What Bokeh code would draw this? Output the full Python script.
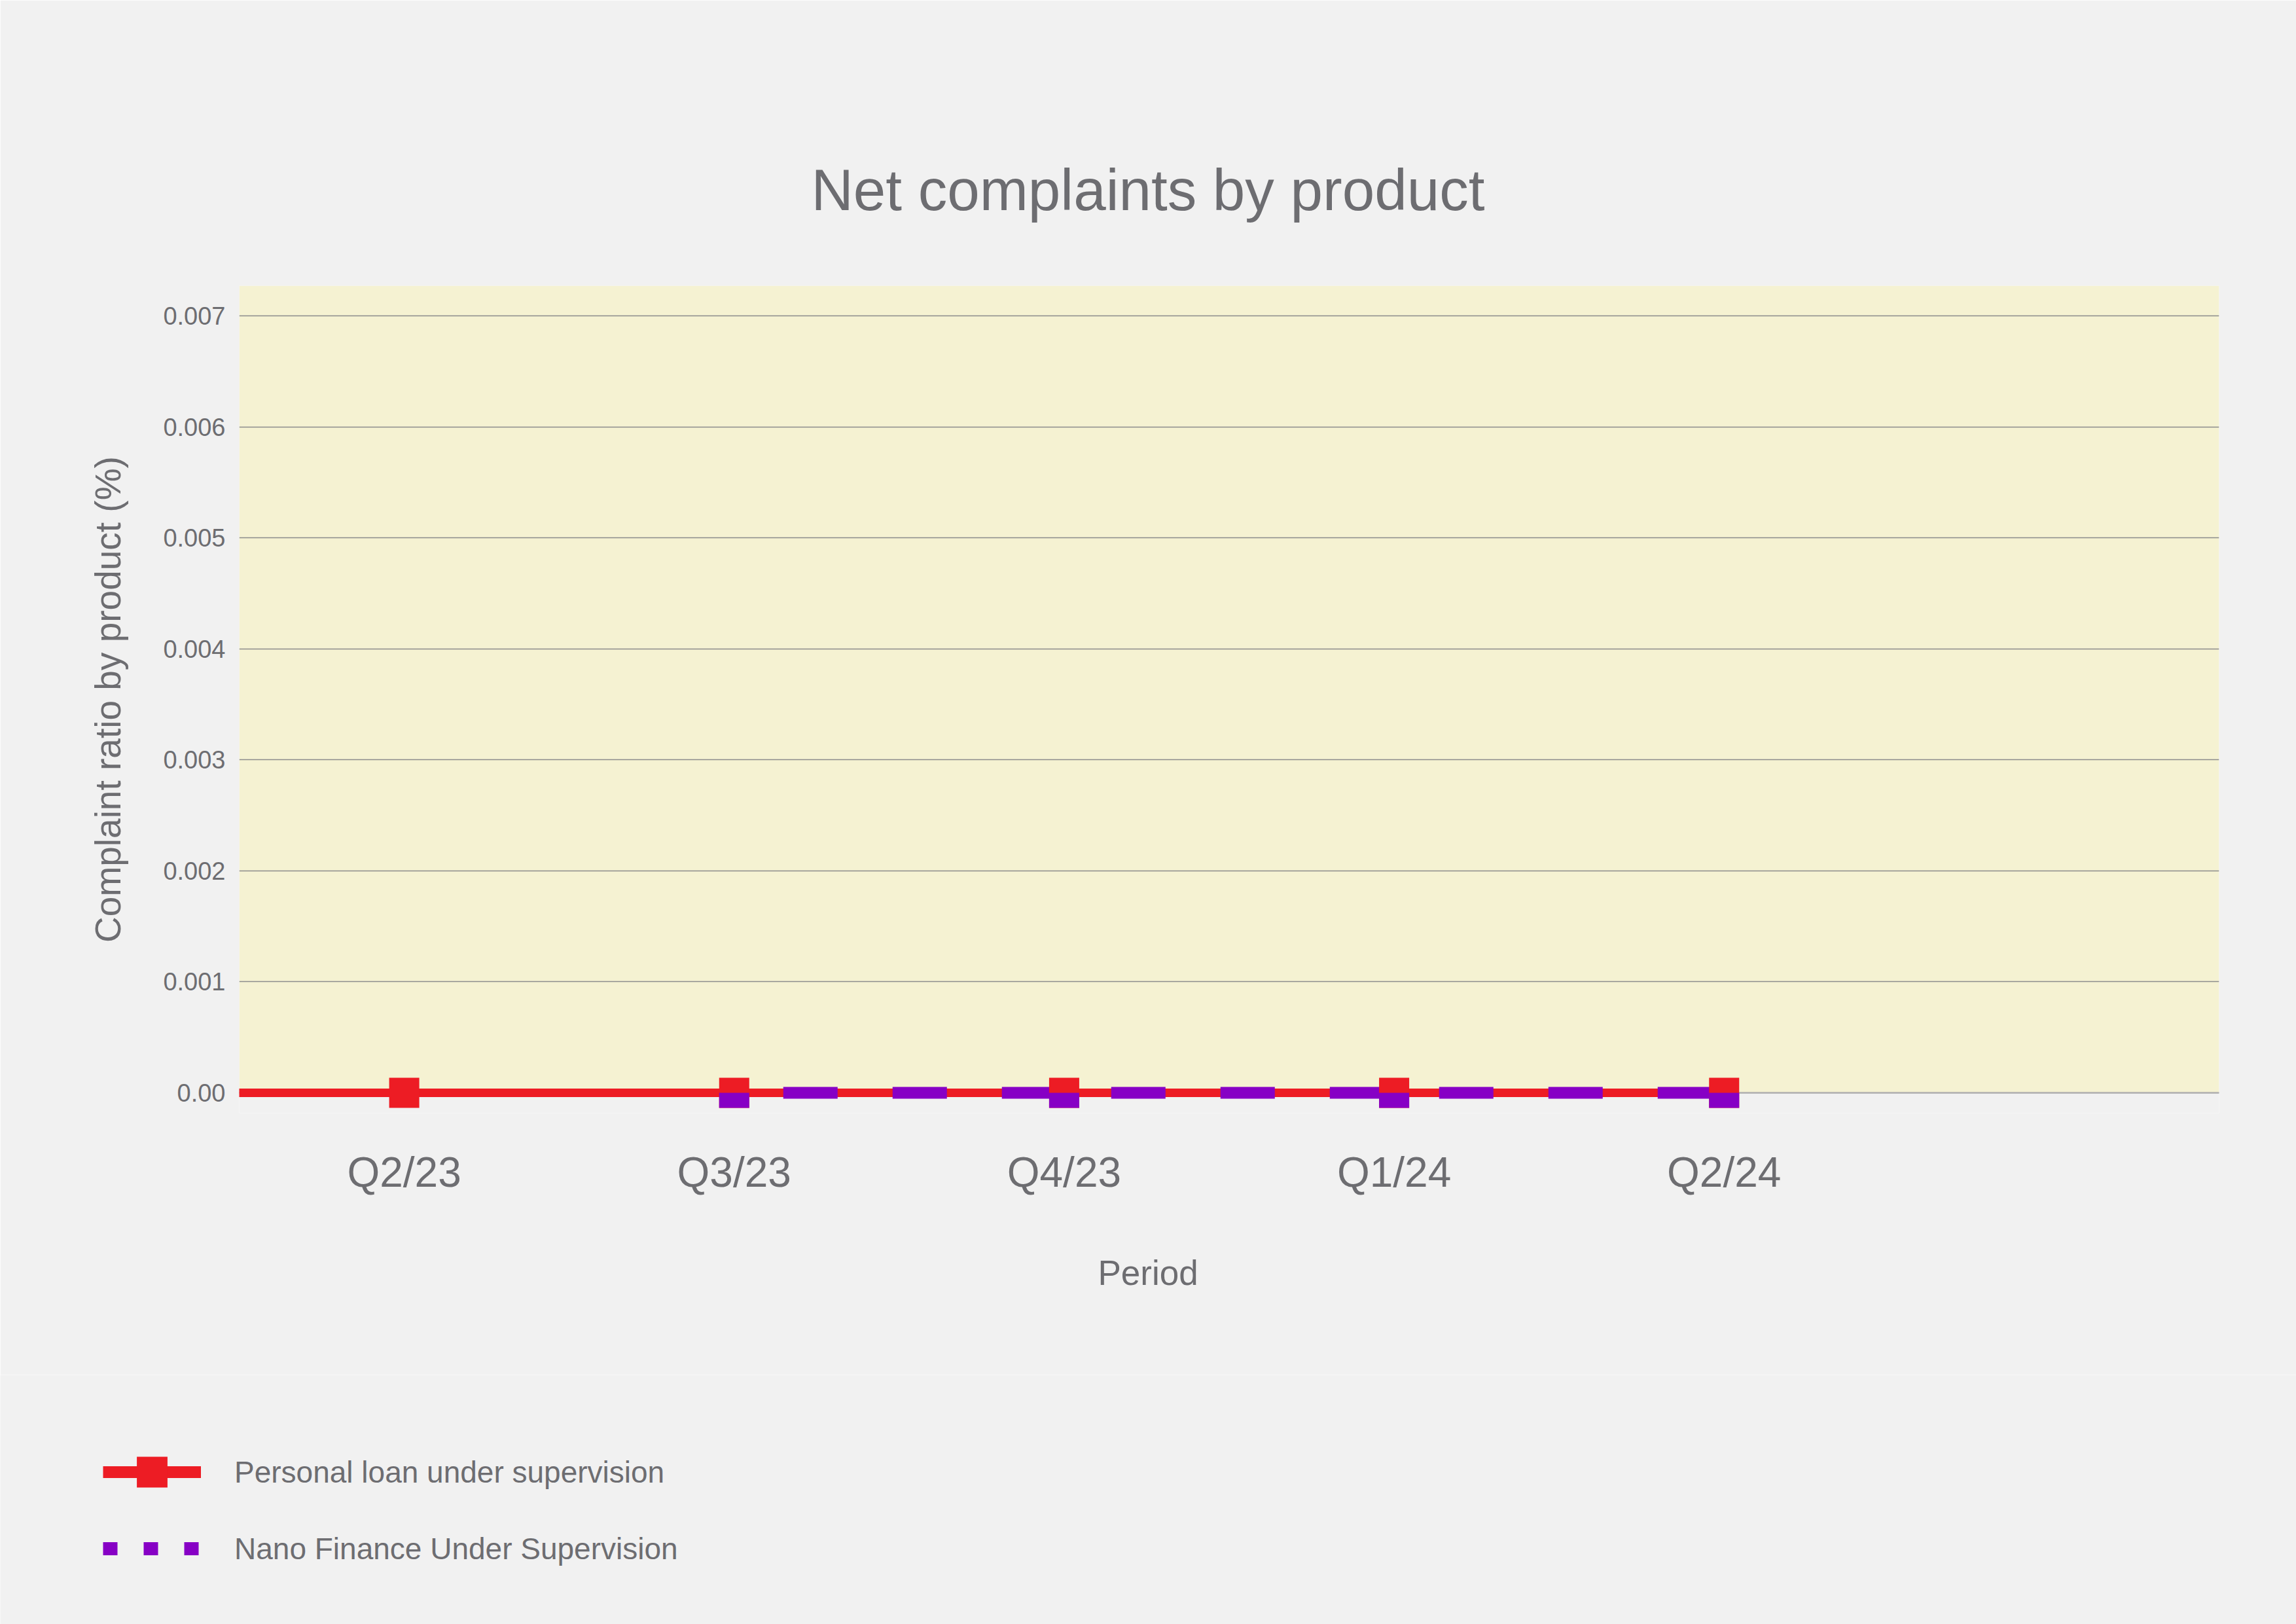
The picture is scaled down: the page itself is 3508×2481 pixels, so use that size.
from bokeh.plotting import figure
from bokeh.layouts import column
from bokeh.models import (Range1d, FixedTicker, BoxAnnotation, Span, Legend,
                          LegendItem, ColumnDataSource, Title)
from bokeh.transform import dodge
from bokeh.embed import file_html
from bokeh.resources import INLINE

# ---------------- data ----------------
periods = ["Q1/23", "Q2/23", "Q3/23", "Q4/23", "Q1/24", "Q2/24"]
shown_periods = ["Q2/23", "Q3/23", "Q4/23", "Q1/24", "Q2/24"]

personal_periods = ["Q1/23", "Q2/23", "Q3/23", "Q4/23", "Q1/24", "Q2/24"]
personal_values = [0.0, 0.0, 0.0, 0.0, 0.0, 0.0]

nano_periods = ["Q3/23", "Q4/23", "Q1/24", "Q2/24"]
nano_values = [0.0, 0.0, 0.0, 0.0]

y_ticks = [0.0, 0.001, 0.002, 0.003, 0.004, 0.005, 0.006, 0.007]
y_tick_labels = ["0.00", "0.001", "0.002", "0.003", "0.004", "0.005", "0.006", "0.007"]

series_names = ["Personal loan under supervision", "Nano Finance Under Supervision"]
title_text = "Net complaints by product"
x_title = "Period"
y_title = "Complaint ratio by product (%)"

# ---------------- styles ----------------
RED = "#ed1c24"
PURPLE = "#8700c5"
TEXT = "#6d6d71"
PAGE_BG = "#f1f1f1"
PLOT_BG = "#f5f2d2"
FONT = "Liberation Sans"
HALF_MARKER = 0.0000678  # half marker height in data units (approx 11.5px)
W = 3508
H_MAIN, H_FOOT = 2100, 381

pos = {c: i for i, c in enumerate(periods)}

personal_src = ColumnDataSource(dict(x=[pos[c] for c in personal_periods], y=personal_values))
nano_src = ColumnDataSource(dict(x=[pos[c] for c in nano_periods], y=nano_values))

p = figure(width=W, height=H_MAIN, output_backend="svg", toolbar_location=None,
           x_range=Range1d(0.5, 6.5), y_range=Range1d(-0.0001828, 0.0072713),
           min_border_left=365, min_border_right=118, min_border_top=436,
           min_border_bottom=400)
p.frame_align = False
p.background_fill_color = PAGE_BG
p.border_fill_color = PAGE_BG
p.outline_line_color = None

# title (centred on the page, not on the plot frame)
p.title.text = title_text
p.title.align = "left"
p.title.offset = 874
p.title.standoff = 194
p.title.text_font = FONT
p.title.text_font_size = "89px"
p.title.text_font_style = "normal"
p.title.text_color = TEXT

# plot area background (only above zero)
p.add_layout(BoxAnnotation(bottom=0, fill_color=PLOT_BG, fill_alpha=1.0,
                           line_color=None, level="image"))
p.add_layout(Span(location=0, dimension="width", line_color="#b3b3b3",
                  line_width=2.5, level="underlay"))

# axes
p.yaxis.ticker = FixedTicker(ticks=y_ticks)
p.yaxis.major_label_overrides = {(0 if v == 0 else v): l for v, l in zip(y_ticks, y_tick_labels)}
p.yaxis.axis_line_color = None
p.yaxis.major_tick_line_color = None
p.yaxis.minor_tick_line_color = None
p.yaxis.major_label_text_font = FONT
p.yaxis.major_label_text_font_size = "38px"
p.yaxis.major_label_text_color = TEXT
p.yaxis.major_label_standoff = 15
p.yaxis.axis_label = y_title
p.yaxis.axis_label_text_font = FONT
p.yaxis.axis_label_text_font_size = "55px"
p.yaxis.axis_label_text_font_style = "normal"
p.yaxis.axis_label_text_color = TEXT
p.yaxis.axis_label_standoff = 50

p.xaxis.ticker = FixedTicker(ticks=[pos[c] for c in shown_periods])
p.xaxis.major_label_overrides = {pos[c]: c for c in shown_periods}
p.xaxis.axis_line_color = None
p.xaxis.major_tick_line_color = None
p.xaxis.minor_tick_line_color = None
p.xaxis.major_label_text_font = FONT
p.xaxis.major_label_text_font_size = "64px"
p.xaxis.major_label_text_color = TEXT
p.xaxis.major_label_standoff = 48

# x axis title, centred on the page like the chart title
p.add_layout(Title(text=x_title, align="left", offset=1312, standoff=170,
                   vertical_align="top", text_font=FONT, text_font_size="53px",
                   text_font_style="normal", text_color=TEXT), "below")

p.xgrid.visible = False
p.ygrid.grid_line_color = "#8c8c8c"
p.ygrid.grid_line_width = 1.5

# series
p.line(x="x", y="y", source=personal_src, line_color=RED, line_width=13)
p.line(x="x", y="y", source=nano_src, line_color=PURPLE, line_width=18,
       line_dash="83 84", line_dash_offset=92)
p.scatter(x="x", y="y", source=personal_src, marker="square", size=46,
          fill_color=RED, line_color=None)
p.rect(x="x", y=dodge("y", -HALF_MARKER), source=nano_src, width=46, height=23,
       width_units="screen", height_units="screen", fill_color=PURPLE, line_color=None)

# ---------------- footer with legend ----------------
foot = figure(width=W, height=H_FOOT, output_backend="svg", toolbar_location=None,
              x_axis_type=None, y_axis_type=None,
              x_range=Range1d(1, 2), y_range=Range1d(1, 2), min_border=0)
foot.frame_align = False
foot.background_fill_color = PAGE_BG
foot.border_fill_color = PAGE_BG
foot.outline_line_color = None

# legend-only renderers (their single point lies outside the footer's visible range)
legend_src = ColumnDataSource(dict(x=[pos[periods[0]]], y=[personal_values[0]]))
lg_red_line = foot.line(x="x", y="y", source=legend_src, line_color=RED, line_width=18)
lg_red_mark = foot.scatter(x="x", y="y", source=legend_src, marker="square", size=52,
                           fill_color=RED, line_color=None)
lg_purple = foot.line(x="x", y="y", source=legend_src, line_color=PURPLE, line_width=20,
                      line_dash="22 40")

legend = Legend(items=[LegendItem(label=series_names[0], renderers=[lg_red_line, lg_red_mark]),
                       LegendItem(label=series_names[1], renderers=[lg_purple])],
                location=(157, 57), orientation="vertical",
                glyph_width=150, glyph_height=117, label_height=52, spacing=0,
                padding=0, margin=0, label_standoff=51,
                border_line_color=None, background_fill_alpha=0,
                label_text_font=FONT, label_text_font_size="46px",
                label_text_color=TEXT)
foot.add_layout(legend)

layout = column(p, foot, spacing=0)
open("out.html", "w").write(file_html(layout, INLINE))
